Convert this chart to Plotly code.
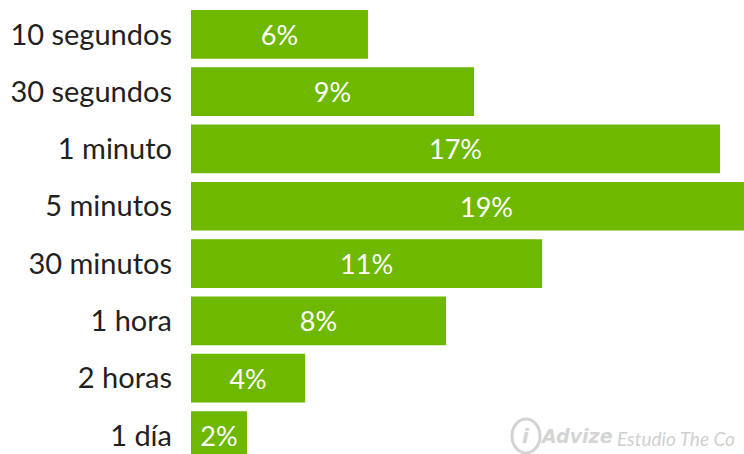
import plotly.graph_objects as go

# Data
categories = ["10 segundos", "30 segundos", "1 minuto", "5 minutos",
              "30 minutos", "1 hora", "2 horas", "1 día"]
values = [5.69, 9.10, 17.01, 19.0, 11.29, 8.20, 3.67, 1.80]
labels = ["6%", "9%", "17%", "19%", "11%", "8%", "4%", "2%"]

GREEN = "#6eb900"
FONT = "Lato"

fig = go.Figure(
    go.Bar(
        x=values,
        y=categories,
        orientation="h",
        marker=dict(color=GREEN, line=dict(width=0)),
        text=labels,
        textposition="inside",
        insidetextanchor="middle",
        constraintext="none",
        textfont=dict(family=FONT, size=27, color="white"),
        hoverinfo="skip",
    )
)

fig.update_layout(
    width=744,
    height=454,
    margin=dict(l=191, r=0, t=0, b=0, pad=0),
    paper_bgcolor="white",
    plot_bgcolor="white",
    bargap=0.15,
    showlegend=False,
    xaxis=dict(range=[0, 17.78], visible=False, fixedrange=True),
    yaxis=dict(
        type="category",
        categoryorder="array",
        categoryarray=categories,
        range=[7.323, -0.5995],
        autorange=False,
        showgrid=False,
        zeroline=False,
        showline=False,
        ticks="",
        ticklabelstandoff=18,
        tickfont=dict(family=FONT, size=29, color="#231f20"),
        fixedrange=True,
    ),
)

# Watermark (source credit), bottom right
fig.add_shape(type="circle", xref="paper", yref="paper",
              x0=(512 - 191) / 553, x1=(540 - 191) / 553,
              y0=(454 - 453) / 454, y1=(454 - 419) / 454,
              line=dict(color="#d4d4d4", width=3))
fig.add_annotation(xref="paper", yref="paper",
                   x=(526 - 191) / 553, y=(454 - 436) / 454,
                   text="<b><i>i</i></b>", showarrow=False,
                   xanchor="center", yanchor="middle",
                   font=dict(family="DejaVu Sans", size=20, color="#d4d4d4"))
fig.add_annotation(xref="paper", yref="paper",
                   x=(538 - 191) / 553, y=(454 - 436) / 454,
                   text="<b><i>Advize</i></b>", showarrow=False,
                   xanchor="left", yanchor="middle",
                   font=dict(family="DejaVu Sans", size=19, color="#d4d4d4"))
fig.add_annotation(xref="paper", yref="paper",
                   x=(615 - 191) / 553, y=(454 - 438) / 454,
                   text="<i>Estudio The Co</i>", showarrow=False,
                   xanchor="left", yanchor="middle",
                   font=dict(family=FONT, size=19, color="#cfcfcf"))

fig.write_html("out.html", config={"displayModeBar": False})
